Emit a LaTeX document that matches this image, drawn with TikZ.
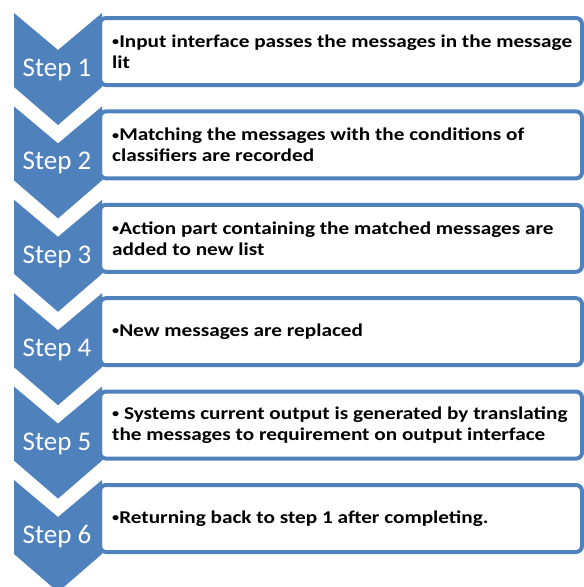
\documentclass[tikz,border=0pt]{standalone}
\usepackage{fontspec}
\setmainfont{Carlito}
\newfontfamily\msgfont[FakeStretch=1.18]{Carlito}
\usepackage{tikz}
\usetikzlibrary{positioning}
\usepackage{xcolor}
\definecolor{stepblue}{HTML}{4F81BD}
\newcommand{\stepshape}[1]{\fill[stepblue] (14,#1) -- ++(44,37) -- ++(44,-37) -- ++(0,74) -- ++(-44,38) -- ++(-44,-38) -- cycle;}
\newcommand{\dotmark}{\raisebox{1.5pt}{\fontsize{12}{12}\selectfont•}}

\begin{document}
\begin{tikzpicture}[
		x=1pt, y=-1pt,
		msgbox/.style={ draw=stepblue,
			fill=white,
			line width=4pt,
			rounded corners=6pt,
			minimum width=482pt,
			minimum height=67pt,
		},
		msgtext/.style={ align=left,
			inner sep=0pt,
			font=\msgfont\fontsize{18}{21}\selectfont\bfseries,
		},
		steplabel/.style={ text=white,
			inner sep=0pt,
			font=\fontsize{27}{32}\selectfont,
		},
		]

		\clip (0,0) rectangle (584,587);

		\node (box1) [msgbox] at (341,51.5) {};
		\node (box2) [msgbox] at (341,144.9) {};
		\node (box3) [msgbox] at (341,238.3) {};
		\node (box4) [msgbox] at (341,331.7) {};
		\node (box5) [msgbox] at (341,425.1) {};
		\node (box6) [msgbox] at (341,518.5) {};

		\stepshape{13}
		\stepshape{106.4}
		\stepshape{199.8}
		\stepshape{293.2}
		\stepshape{386.6}
		\stepshape{480}

		\node (step1) [steplabel] at (57,70) {Step 1};
		\node (step2) [steplabel] at (57,163.4) {Step 2};
		\node (step3) [steplabel] at (57,256.8) {Step 3};
		\node (step4) [steplabel] at (57,350.2) {Step 4};
		\node (step5) [steplabel] at (57,443.6) {Step 5};
		\node (step6) [steplabel] at (57,537) {Step 6};

		\node (text1) [msgtext, right=14pt of box1.west] {\dotmark Input interface passes the messages in the message\\lit};
		\node (text2) [msgtext, right=14pt of box2.west] {\dotmark Matching the messages with the conditions of\\classifiers are recorded};
		\node (text3) [msgtext, right=14pt of box3.west] {\dotmark Action part containing the matched messages are\\added to new list};
		\node (text4) [msgtext, right=14pt of box4.west] {\dotmark New messages are replaced};
		\node (text5) [msgtext, right=14pt of box5.west] {\dotmark{} Systems current output is generated by translating\\the messages to requirement on output interface};
		\node (text6) [msgtext, right=14pt of box6.west] {\dotmark Returning back to step 1 after completing.};

	\end{tikzpicture}
\end{document}
